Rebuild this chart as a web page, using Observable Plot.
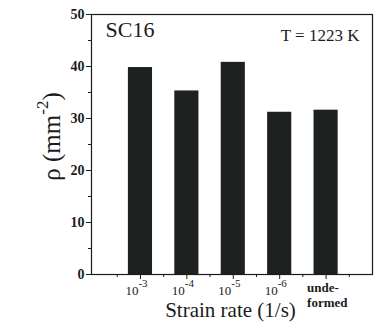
<!DOCTYPE html>
<html>
<head>
<meta charset="utf-8">
<script src="https://cdn.jsdelivr.net/npm/d3@7"></script>
<script src="https://cdn.jsdelivr.net/npm/@observablehq/plot@0.6"></script>
<style>
  html, body { margin: 0; padding: 0; background: #fff; }
  #chart { width: 374px; height: 322px; overflow: hidden; }
  #chart svg, #chart svg text { font-family: "Liberation Serif", "DejaVu Serif", serif !important; }
</style>
</head>
<body>
<div id="chart"></div>
<script>
// Data
const categories = ["10^-3", "10^-4", "10^-5", "10^-6", "undeformed"];
const values = [39.8, 35.3, 40.8, 31.2, 31.6];
const tickBases = ["10", "10", "10", "10"];
const tickExponents = ["-3", "-4", "-5", "-6"];
const undeformedLabel = "unde-\nformed";
const yTicks = [0, 10, 20, 30, 40, 50];
const yMinorTicks = [5, 15, 25, 35, 45];
const xMajorTicks = [1, 2, 3, 4, 5];
const xMinorTicks = [0.5, 1.5, 2.5, 3.5, 4.5, 5.5];
const sampleLabel = "SC16";
const tempLabel = "T = 1223 K";
const xLabel = "Strain rate (1/s)";
const yLabelMain = "ρ (mm";
const yLabelSup = "-2";
const yLabelEnd = ")";

const data = categories.map((c, i) => ({category: c, pos: i + 1, value: values[i]}));
const ink = "#1a1c1c";
const serif = "Liberation Serif";
const yLabelFull = yLabelMain + yLabelSup + yLabelEnd;

const chart = Plot.plot({
  width: 374,
  height: 322,
  marginLeft: 91,
  marginRight: 2,
  marginTop: 14,
  marginBottom: 48,
  x: {domain: [-0.055, 6], axis: null},
  y: {domain: [0, 50], axis: null},
  style: "font-family: 'Liberation Serif', serif; background: #fff; color: #1a1c1c;",
  marks: [
    Plot.rectY(data, {x1: d => d.pos - 0.26, x2: d => d.pos + 0.26, y: "value", fill: "#1d2120"}),
    Plot.frame({stroke: ink, strokeWidth: 1.2}),
    Plot.axisY({ticks: yTicks, tickSize: 5, tickPadding: 2, fontSize: 14, fontWeight: "bold", fontFamily: serif, label: null, stroke: ink}),
    Plot.axisY({ticks: yMinorTicks, tickSize: 3, tickFormat: () => "", label: null, stroke: ink}),
    Plot.axisX({ticks: xMajorTicks, tickSize: 5, tickFormat: () => "", label: null, stroke: ink}),
    Plot.axisX({ticks: xMinorTicks, tickSize: 3, tickFormat: () => "", label: null, stroke: ink}),
    Plot.text(tickBases, {x: (d, i) => xMajorTicks[i], text: d => d, frameAnchor: "bottom", textAnchor: "end", lineAnchor: "bottom", dx: -2, dy: 20, fontSize: 13, fontFamily: serif, fill: ink}),
    Plot.text(tickExponents, {x: (d, i) => xMajorTicks[i], text: d => d, frameAnchor: "bottom", textAnchor: "start", lineAnchor: "bottom", dx: -2, dy: 12, fontSize: 11, fontFamily: serif, fill: ink}),
    Plot.text([undeformedLabel], {x: [xMajorTicks[4]], text: d => d, frameAnchor: "bottom", textAnchor: "start", lineAnchor: "top", dx: -19, dy: 7, fontSize: 13, fontWeight: "bold", fontFamily: serif, lineHeight: 1.15, fill: ink}),
    Plot.text([sampleLabel], {frameAnchor: "top-left", textAnchor: "start", lineAnchor: "bottom", dx: 14, dy: 22, fontSize: 22, fontFamily: serif, fill: ink}),
    Plot.text([tempLabel], {frameAnchor: "top-right", textAnchor: "end", lineAnchor: "bottom", dx: -13, dy: 26, fontSize: 17, fontFamily: serif, fill: ink}),
    Plot.text([xLabel], {frameAnchor: "bottom", textAnchor: "middle", lineAnchor: "bottom", dx: -1.5, dy: 42, fontSize: 21, fontFamily: serif, fill: ink}),
    Plot.text([yLabelFull], {frameAnchor: "left", textAnchor: "middle", lineAnchor: "bottom", rotate: -90, dx: -32, dy: -8, fontSize: 25, fontFamily: serif, fill: ink})
  ]
});

// Render the exponent of the y label as a raised superscript
d3.select(chart).selectAll("text").filter(function() { return this.textContent === yLabelFull; }).each(function() {
  const t = d3.select(this);
  t.text(null);
  t.append("tspan").text(yLabelMain);
  t.append("tspan").attr("dy", -12).attr("font-size", 17).text(yLabelSup);
  t.append("tspan").attr("dy", 12).text(yLabelEnd);
});

document.getElementById("chart").appendChild(chart);
</script>
</body>
</html>
